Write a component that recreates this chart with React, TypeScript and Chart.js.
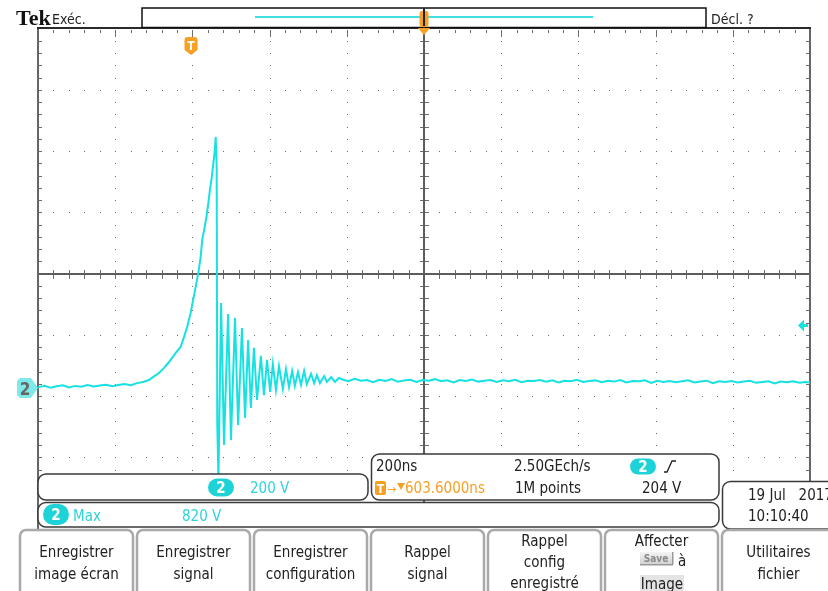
import React, { useEffect, useRef } from "react";
import { Chart, registerables } from "chart.js";
Chart.register(...registerables);

// ---- acquisition settings ----
const NS_PER_DIV = 200;
const H_DELAY_NS = 603.6;
const V_PER_DIV = 200;
const CH2_POSITION_DIV = -1.87;
const TRIGGER_LEVEL_V = 204;

// ---- channel 2 waveform (time in ns relative to trigger, volts) ----
const preTimes = [-396, -380, -364, -348, -332, -316, -300, -284, -268, -252, -236, -220, -204, -188, -172, -156, -140, -124];
const preVolts = [3, 7, 1, 6, 9, 2, 7, 4, 10, 5, 8, 11, 6, 10, 13, 9, 16, 20];

const pulseTimes = [-109, -96, -83, -70, -57, -40, -27, -18, -10, -1, 3, 12, 19, 25, 29, 34, 40, 45, 49, 54, 58, 61, 64, 66.5, 68, 71];
const pulseVolts = [26, 38, 49, 66, 85, 114, 134, 167, 199, 245, 271, 330, 376, 428, 484, 516, 559, 605, 647, 690, 735, 768, 820, 719, -114, -300];

const ringTimes = [78, 85.5, 96, 103.5, 114, 122, 132, 140, 148, 155, 163, 171, 181, 189, 197, 205, 212, 220, 228, 238, 246, 254, 262, 269, 277, 285, 293, 300, 311, 319, 326, 334, 345, 352, 363, 373, 383];
const ringVolts = [278, -186, 242, -170, 229, -121, 196, -98, 157, -65, 131, -39, 105, -23, 92, -13, 78, -7, 72, -3, 62, 3, 56, 7, 52, 10, 56, 13, 46, 16, 42, 16, 39, 20, 36, 20, 33];

const postTimes = [392, 408, 424, 440, 456, 472, 488, 504, 520, 536, 552, 568, 584, 600, 616, 632, 648, 664, 680, 696, 712, 728, 744, 760, 776, 792, 808, 824, 840, 856, 872, 888, 904, 920, 936, 952, 968, 984, 1000, 1016, 1032, 1048, 1064, 1080, 1096, 1112, 1128, 1144, 1160, 1176, 1192, 1208, 1224, 1240, 1256, 1272, 1288, 1304, 1320, 1336, 1352, 1368, 1384, 1400, 1416, 1432, 1448, 1464, 1480, 1496, 1512, 1528, 1544, 1560, 1576, 1592, 1604];
const postVolts = [28, 22, 30, 24, 26, 19, 27, 23, 29, 21, 25, 27, 20, 26, 24, 29, 22, 25, 18, 26, 23, 28, 21, 24, 26, 20, 25, 22, 27, 19, 24, 23, 26, 21, 25, 18, 24, 22, 27, 20, 23, 25, 19, 24, 21, 26, 18, 23, 22, 25, 17, 24, 20, 23, 19, 22, 25, 18, 21, 24, 16, 22, 20, 23, 18, 21, 24, 17, 20, 22, 15, 21, 19, 22, 17, 20, 18];

// ---- readout texts ----
const buttonLabels = [
  ["Enregistrer", "image écran"],
  ["Enregistrer", "signal"],
  ["Enregistrer", "configuration"],
  ["Rappel", "signal"],
  ["Rappel", "config", "enregistré"],
  ["Affecter", "", "Image"],
  ["Utilitaires", "fichier"],
];

const CYAN = "#17e1e1";
const CYAN_TXT = "#2fd3d8";
const ORANGE = "#f6a024";
const FONT = '"DejaVu Sans Condensed","Liberation Sans Narrow","Roboto Condensed",sans-serif';

function txt(ctx: any, s: string, x: number, y: number, color = "#222", size = 15, align = "left", weight = "normal") {
  ctx.font = `${weight} ${size}px ${FONT}`;
  ctx.fillStyle = color;
  ctx.textAlign = align;
  ctx.textBaseline = "alphabetic";
  ctx.fillText(s, x, y);
}

function pill(ctx: any, x: number, y: number, w: number, h: number, label: string) {
  ctx.beginPath();
  ctx.roundRect(x, y, w, h, h / 2);
  ctx.fillStyle = "#1ed3d8";
  ctx.fill();
  txt(ctx, label, x + w / 2, y + h / 2 + 5.5, "#fff", 15, "center", "bold");
}

function box(ctx: any, x: number, y: number, w: number, h: number, r = 8) {
  ctx.beginPath();
  ctx.roundRect(x, y, w, h, r);
  ctx.fillStyle = "#fff";
  ctx.fill();
  ctx.lineWidth = 1.5;
  ctx.strokeStyle = "#3a3a3a";
  ctx.stroke();
}

const scopePlugin = {
  id: "scopeScreen",
  beforeDraw(chart: any) {
    const { ctx, width, height } = chart;
    ctx.save();
    ctx.fillStyle = "#fff";
    ctx.fillRect(0, 0, width, height);
    ctx.restore();
  },
  beforeDatasetsDraw(chart: any) {
    const { ctx } = chart;
    const xs = chart.scales.x;
    const ys = chart.scales.y;
    const colX: number[] = [];
    for (let i = 0; i <= 10; i++) colX.push(xs.getPixelForValue(xs.min + i * NS_PER_DIV));
    const mid = (ys.min + ys.max) / 2;
    const rowY: number[] = [];
    for (let k = 4; k >= -4; k--) rowY.push(ys.getPixelForValue(mid + k * V_PER_DIV));
    const sx = (colX[10] - colX[0]) / 50;
    const sy = (rowY[8] - rowY[0]) / 40;
    ctx.save();
    ctx.fillStyle = "#6e6e6e";
    for (let r = 1; r < 8; r++) {
      if (r === 4) continue;
      const yy = Math.round(rowY[r]);
      for (let m = 1; m < 50; m++) ctx.fillRect(Math.round(colX[0] + m * sx), yy, 1, 1);
    }
    for (let c = 1; c < 10; c++) {
      if (c === 5) continue;
      const xx = Math.round(colX[c]);
      for (let m = 1; m < 40; m++) ctx.fillRect(xx, Math.round(rowY[0] + m * sy), 1, 1);
    }
    const cx = Math.round(colX[5]);
    const cy = Math.round(rowY[4]);
    for (let m = 1; m < 50; m++) {
      const px = Math.round(colX[0] + m * sx);
      ctx.fillRect(px, cy - 4, 1, 9);
      ctx.fillRect(px, Math.round(rowY[0]) + 1, 1, m % 5 === 0 ? 7 : 3);
    }
    for (let m = 1; m < 40; m++) {
      const py = Math.round(rowY[0] + m * sy);
      ctx.fillRect(cx - 4, py, 9, 1);
      ctx.fillRect(Math.round(colX[0]) + 1, py, 3, 1);
      ctx.fillRect(Math.round(colX[10]) - 4, py, 3, 1);
    }
    ctx.fillStyle = "#5c5c5c";
    ctx.fillRect(colX[0], cy - 1, colX[10] - colX[0], 2);
    ctx.fillRect(cx - 1, rowY[0], 2, rowY[8] - rowY[0]);
    ctx.fillStyle = "#666";
    ctx.fillRect(Math.round(colX[0]) - 1, rowY[0] - 1, 2, 530 - rowY[0]);
    ctx.fillRect(Math.round(colX[10]) - 1, rowY[0] - 1, 2, 485 - rowY[0]);
    ctx.fillStyle = "#2a2a2a";
    ctx.fillRect(colX[0] - 1, rowY[0] - 1.5, colX[10] - colX[0] + 2, 2);

    // header
    ctx.font = "bold 22px 'Liberation Serif', serif";
    ctx.fillStyle = "#111";
    ctx.textAlign = "left";
    ctx.fillText("Tek", 16, 25);
    txt(ctx, "Exéc.", 52, 24, "#222", 14);
    txt(ctx, "Décl. ?", 711, 24, "#222", 14);
    // record view bar
    ctx.fillStyle = "#fff";
    ctx.fillRect(142, 8, 564, 19.5);
    ctx.lineWidth = 1.5;
    ctx.strokeStyle = "#111";
    ctx.strokeRect(142, 8, 564, 19.5);
    ctx.fillStyle = "#3fdfe3";
    ctx.fillRect(255, 16, 338, 2);
    const tcx = cx;
    ctx.fillStyle = "#222";
    ctx.fillRect(tcx - 1, 8, 2, 20);
    ctx.beginPath();
    ctx.roundRect(tcx - 4.5, 11, 9, 16, 3);
    ctx.fillStyle = ORANGE;
    ctx.fill();
    ctx.fillStyle = "#222";
    ctx.fillRect(tcx - 1, 8, 2, 18);
    ctx.beginPath();
    ctx.moveTo(tcx - 6, 28);
    ctx.lineTo(tcx + 6, 28);
    ctx.lineTo(tcx, 35);
    ctx.closePath();
    ctx.fillStyle = ORANGE;
    ctx.fill();
    ctx.restore();
  },
  afterDraw(chart: any) {
    const { ctx } = chart;
    const xs = chart.scales.x;
    const ys = chart.scales.y;
    ctx.save();
    // channel 2 ground marker
    const gy = Math.round(ys.getPixelForValue(0));
    ctx.beginPath();
    ctx.moveTo(17, gy - 7);
    ctx.lineTo(20, gy - 10);
    ctx.lineTo(31, gy - 10);
    ctx.lineTo(38, gy);
    ctx.lineTo(31, gy + 10);
    ctx.lineTo(20, gy + 10);
    ctx.lineTo(17, gy + 7);
    ctx.closePath();
    ctx.fillStyle = "#7fe9e9";
    ctx.fill();
    txt(ctx, "2", 25, gy + 6.5, "#666", 17, "center", "bold");
    // trigger level arrow
    const ty = ys.getPixelForValue(TRIGGER_LEVEL_V);
    ctx.beginPath();
    ctx.moveTo(798, ty);
    ctx.lineTo(804, ty - 6);
    ctx.lineTo(804, ty + 6);
    ctx.closePath();
    ctx.fillStyle = CYAN;
    ctx.fill();
    ctx.fillRect(803, ty - 1.5, 5, 3);
    // trigger position T marker
    const tx = xs.getPixelForValue(0);
    ctx.beginPath();
    ctx.moveTo(tx - 6.5, 40);
    ctx.quadraticCurveTo(tx - 6.5, 37, tx - 3.5, 37);
    ctx.lineTo(tx + 3.5, 37);
    ctx.quadraticCurveTo(tx + 6.5, 37, tx + 6.5, 40);
    ctx.lineTo(tx + 6.5, 50);
    ctx.lineTo(tx, 55);
    ctx.lineTo(tx - 6.5, 50);
    ctx.closePath();
    ctx.fillStyle = ORANGE;
    ctx.fill();
    txt(ctx, "T", tx, 50, "#fff", 12, "center", "bold");

    // readouts
    box(ctx, 371.5, 454, 347.5, 46);
    txt(ctx, "200ns", 376, 471, "#222");
    txt(ctx, "2.50GEch/s", 514, 471, "#222");
    pill(ctx, 630, 458.5, 26, 16, "2");
    ctx.beginPath();
    ctx.moveTo(664, 472);
    ctx.lineTo(667, 472);
    ctx.lineTo(672, 461);
    ctx.lineTo(676, 461);
    ctx.strokeStyle = "#222";
    ctx.lineWidth = 1.3;
    ctx.stroke();
    ctx.beginPath();
    ctx.roundRect(375, 481, 11, 14, 2);
    ctx.fillStyle = ORANGE;
    ctx.fill();
    txt(ctx, "T", 380.5, 493, "#fff", 12, "center", "bold");
    txt(ctx, "→", 387, 493, ORANGE, 12);
    ctx.beginPath();
    ctx.moveTo(397, 483);
    ctx.lineTo(405, 483);
    ctx.lineTo(401, 490);
    ctx.closePath();
    ctx.fillStyle = ORANGE;
    ctx.fill();
    txt(ctx, "603.6000ns", 405, 493, ORANGE);
    txt(ctx, "1M points", 515, 493, "#222");
    txt(ctx, "204 V", 642, 493, "#222");

    box(ctx, 38, 474, 330, 26);
    pill(ctx, 208, 478.5, 26, 18, "2");
    txt(ctx, "200 V", 250, 493, CYAN_TXT);

    box(ctx, 38, 502.5, 681, 24.5);
    pill(ctx, 43, 504, 26, 21, "2");
    txt(ctx, "Max", 73, 521, CYAN_TXT);
    txt(ctx, "820 V", 182, 521, CYAN_TXT);

    box(ctx, 722.5, 481.5, 130, 47.5);
    txt(ctx, "19 Jul   2017", 748, 500, "#222");
    txt(ctx, "10:10:40", 748, 521, "#222");

    // soft buttons
    const bx = [20, 137, 254, 371, 488, 605, 722];
    ctx.fillStyle = "#fff";
    ctx.fillRect(0, 529, 828, 62);
    bx.forEach((x0, i) => {
      const x1 = x0 + 113;
      ctx.beginPath();
      ctx.moveTo(x0, 600);
      ctx.lineTo(x0, 536);
      ctx.arcTo(x0, 530, x0 + 6, 530, 6);
      ctx.lineTo(x1 - 6, 530);
      ctx.arcTo(x1, 530, x1, 536, 6);
      ctx.lineTo(x1, 600);
      ctx.strokeStyle = "#a9a9a9";
      ctx.lineWidth = 2.5;
      ctx.stroke();
      const c = x0 + 56.5;
      const lab = buttonLabels[i];
      if (lab.length === 2) {
        txt(ctx, lab[0], c, 557, "#222", 15, "center");
        txt(ctx, lab[1], c, 579, "#222", 15, "center");
      } else if (i === 4) {
        txt(ctx, lab[0], c, 546, "#222", 15, "center");
        txt(ctx, lab[1], c, 567, "#222", 15, "center");
        txt(ctx, lab[2], c, 588, "#222", 15, "center");
      } else {
        txt(ctx, lab[0], c, 546, "#222", 15, "center");
        const g = ctx.createLinearGradient(0, 552, 0, 565);
        g.addColorStop(0, "#f4f4f4");
        g.addColorStop(1, "#cfcfcf");
        ctx.fillStyle = g;
        ctx.fillRect(640, 552, 33, 12);
        ctx.fillStyle = "#9a9a9a";
        ctx.fillRect(672, 552, 1.5, 13);
        ctx.fillRect(640, 564, 33, 1.5);
        txt(ctx, "Save", 656, 562, "#8a8a8a", 10, "center", "bold");
        txt(ctx, "à", 678, 566, "#222", 15);
        ctx.fillStyle = "#e4e4e4";
        ctx.fillRect(640, 575, 44, 16);
        txt(ctx, lab[2], 662, 589, "#222", 15, "center");
      }
    });
    ctx.restore();
  },
};

export default function App() {
  const ref = useRef<HTMLCanvasElement>(null);
  useEffect(() => {
    const times = [...preTimes, ...pulseTimes, ...ringTimes, ...postTimes];
    const volts = [...preVolts, ...pulseVolts, ...ringVolts, ...postVolts];
    const points = times.map((t, i) => ({ x: t, y: volts[i] }));
    const chart = new Chart(ref.current as HTMLCanvasElement, {
      type: "line",
      data: {
        datasets: [
          {
            data: points,
            borderColor: CYAN,
            borderWidth: 2,
            pointRadius: 0,
            tension: 0,
            fill: false,
          },
        ],
      },
      options: {
        responsive: false,
        animation: false,
        devicePixelRatio: 1,
        events: [],
        layout: { padding: { left: 38, right: 18, top: 28.5, bottom: 72.5 } },
        plugins: { legend: { display: false }, tooltip: { enabled: false }, title: { display: false } },
        scales: {
          x: { type: "linear", min: H_DELAY_NS - 5 * NS_PER_DIV, max: H_DELAY_NS + 5 * NS_PER_DIV, display: false },
          y: {
            type: "linear",
            min: (-4 - CH2_POSITION_DIV) * V_PER_DIV,
            max: (4 - CH2_POSITION_DIV) * V_PER_DIV,
            display: false,
          },
        },
      },
      plugins: [scopePlugin],
    } as any);
    return () => chart.destroy();
  }, []);
  return (
    <div style={{ position: "fixed", left: 0, top: 0, width: 828, height: 591, background: "#fff" }}>
      <canvas ref={ref} width={828} height={591} style={{ display: "block" }} />
    </div>
  );
}
